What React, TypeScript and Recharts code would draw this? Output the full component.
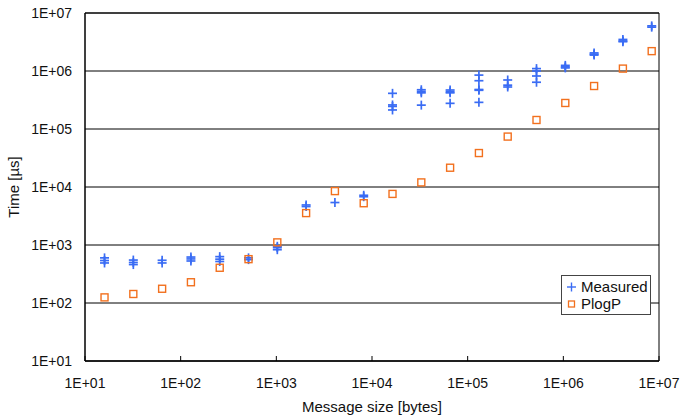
import React from 'react';
import {
  ScatterChart,
  Scatter,
  XAxis,
  YAxis,
  CartesianGrid,
  Legend,
  ReferenceArea,
} from 'recharts';

// Message sizes (bytes)
const sizes = [
  16, 32, 64, 128, 256, 512, 1024, 2048, 4096, 8192, 16384, 32768, 65536,
  131072, 262144, 524288, 1048576, 2097152, 4194304, 8388608,
];

// Measured times (µs), several runs per message size
const measuredTimes: number[][] = [
  [490, 540, 600],
  [460, 500, 550],
  [490, 545],
  [530, 575, 620],
  [520, 570, 630],
  [560, 600],
  [830, 900, 950],
  [4600, 4900],
  [5400],
  [6800, 7200],
  [412000, 260000, 245000, 213000],
  [475000, 445000, 420000, 258000],
  [470000, 440000, 420000, 277000],
  [850000, 680000, 480000, 465000, 288000],
  [700000, 570000, 530000],
  [1100000, 1000000, 820000, 640000],
  [1250000, 1180000, 1130000],
  [2050000, 1950000, 1880000],
  [3500000, 3300000, 3200000],
  [6000000, 5700000],
];

// PlogP model prediction (µs)
const plogpTimes = [
  125, 143, 176, 228, 405, 570, 1110, 3550, 8500, 5250, 7600, 12000, 21500,
  38500, 74000, 143000, 281000, 551000, 1100000, 2200000,
];

const decadeTicks = [1e1, 1e2, 1e3, 1e4, 1e5, 1e6, 1e7];

const measuredData = sizes.flatMap((s, i) =>
  measuredTimes[i].map((t) => ({ size: s, time: t }))
);
const plogpData = sizes.map((s, i) => ({ size: s, time: plogpTimes[i] }));

const BLUE = '#3a6cf4';
const ORANGE = '#f2701e';
const FONT = '"Liberation Sans", Arial, Helvetica, sans-serif';

const fmt = (v: number) => {
  const e = Math.round(Math.log10(v));
  return `1E+${e < 10 ? '0' + e : e}`;
};

const PlusShape = (props: any) => {
  const { cx, cy } = props;
  if (cx == null || cy == null) return null;
  const h = 4.5;
  return (
    <g>
      <line x1={cx - h} x2={cx + h} y1={cy} y2={cy} stroke={BLUE} strokeWidth={1.7} />
      <line x1={cx} x2={cx} y1={cy - h} y2={cy + h} stroke={BLUE} strokeWidth={1.7} />
    </g>
  );
};

const SquareShape = (props: any) => {
  const { cx, cy } = props;
  if (cx == null || cy == null) return null;
  const h = 3.5;
  return (
    <rect
      x={cx - h}
      y={cy - h}
      width={2 * h}
      height={2 * h}
      fill="none"
      stroke={ORANGE}
      strokeWidth={1.4}
    />
  );
};

const XTick = (props: any) => {
  const { x, y, payload } = props;
  return (
    <g>
      <line x1={x} x2={x} y1={y} y2={y - 5} stroke="#000" strokeWidth={1} />
      <text
        x={x}
        y={y + 27}
        textAnchor="middle"
        fontSize={14}
        fontFamily={FONT}
        fill="#111"
      >
        {fmt(payload.value)}
      </text>
    </g>
  );
};

const LegendBox = () => (
  <div
    style={{
      border: '1px solid #444',
      background: '#fff',
      width: 90,
      height: 40,
      boxSizing: 'border-box',
      fontFamily: FONT,
      fontSize: 15,
      color: '#111',
      lineHeight: '17px',
      padding: '2px 0 0 3px',
    }}
  >
    <div style={{ display: 'flex', alignItems: 'center' }}>
      <svg width={14} height={14} style={{ marginRight: 2 }}>
        <line x1={2} x2={11} y1={7} y2={7} stroke={BLUE} strokeWidth={1.4} />
        <line x1={6.5} x2={6.5} y1={2.5} y2={11.5} stroke={BLUE} strokeWidth={1.4} />
      </svg>
      <span>Measured</span>
    </div>
    <div style={{ display: 'flex', alignItems: 'center' }}>
      <svg width={14} height={14} style={{ marginRight: 2 }}>
        <rect x={3.5} y={4} width={6} height={6} fill="none" stroke={ORANGE} strokeWidth={1.3} />
      </svg>
      <span>PlogP</span>
    </div>
  </div>
);

export default function App() {
  return (
    <div
      style={{
        fontFamily: FONT,
        position: 'absolute',
        left: 0,
        top: 0,
        width: 682,
        height: 419,
        overflow: 'hidden',
        background: '#fff',
      }}
    >
      <ScatterChart
        width={682}
        height={419}
        margin={{ top: 13, right: 23, left: 0, bottom: 0 }}
      >
        <CartesianGrid
          vertical={false}
          horizontal={true}
          stroke="#000"
          strokeWidth={1}
          strokeDasharray=""
        />
        <XAxis
          dataKey="size"
          type="number"
          scale="log"
          domain={[10, 1e7]}
          ticks={decadeTicks}
          allowDataOverflow
          height={58}
          tickSize={0}
          tickMargin={0}
          tickLine={false}
          axisLine={{ stroke: '#000' }}
          tick={<XTick />}
          interval={0}
          label={{
            value: 'Message size [bytes]',
            position: 'insideBottom',
            offset: 7,
            fontSize: 15,
            fill: '#111',
            fontFamily: FONT,
          }}
        />
        <YAxis
          dataKey="time"
          type="number"
          scale="log"
          domain={[10, 1e7]}
          ticks={decadeTicks}
          allowDataOverflow
          width={85}
          tickSize={0}
          tickMargin={13}
          tickLine={false}
          axisLine={{ stroke: '#000' }}
          interval={0}
          tickFormatter={fmt}
          tick={{ fontSize: 14, fill: '#111', fontFamily: FONT }}
          label={{
            value: 'Time [µs]',
            angle: -90,
            position: 'insideLeft',
            offset: 14,
            fontSize: 15,
            fill: '#111',
            fontFamily: FONT,
            style: { textAnchor: 'middle' },
          }}
        />
        <ReferenceArea
          x1={10}
          x2={1e7}
          y1={10}
          y2={1e7}
          fill="none"
          fillOpacity={0}
          stroke="#000"
          strokeWidth={1}
          ifOverflow="visible"
        />
        <Scatter
          name="Measured"
          data={measuredData}
          shape={<PlusShape />}
          isAnimationActive={false}
        />
        <Scatter
          name="PlogP"
          data={plogpData}
          shape={<SquareShape />}
          isAnimationActive={false}
        />
        <Legend
          layout="vertical"
          align="center"
          verticalAlign="middle"
          content={<LegendBox />}
          wrapperStyle={{ position: 'absolute', left: 561, top: 275, width: 90, height: 40 }}
        />
      </ScatterChart>
    </div>
  );
}
